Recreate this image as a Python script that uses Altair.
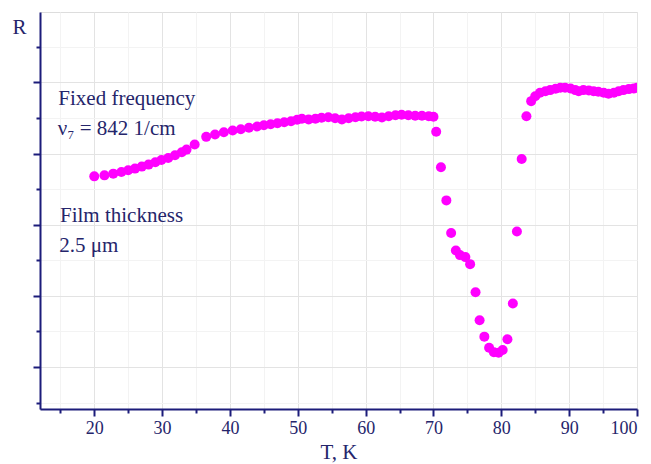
import altair as alt
import pandas as pd

# Temperature scan of reflectance at a fixed frequency
temperature = [
    20.0, 21.5, 22.8, 24.0, 25.0, 26.0, 27.0, 28.0, 29.0, 29.9, 30.9, 31.9, 32.9, 33.6, 34.8,
    36.5, 37.8, 39.1, 40.4, 41.6, 42.8, 44.0, 45.0, 46.0, 47.0, 48.0, 49.0, 49.9, 50.6,
    51.6, 52.6, 53.5, 54.5, 55.5, 56.5, 57.5, 58.5, 59.4, 60.4, 61.4, 62.4, 63.4, 64.4,
    65.3, 66.3, 67.3, 68.3, 69.3, 70.0,
    70.4, 71.1, 71.9, 72.6, 73.3, 73.9, 74.7, 75.4, 76.2, 76.8, 77.5, 78.2, 78.9, 79.6,
    80.2, 80.9, 81.7, 82.3, 83.0, 83.7, 84.4,
    85.0, 85.7, 86.5, 87.2, 88.0, 88.7, 89.4, 90.2, 90.9, 91.4, 92.1, 92.9, 93.6, 94.3,
    95.1, 95.8, 96.6, 97.3, 98.0, 98.8, 99.5, 100.0,
]
reflectance = [
    3.680, 3.694, 3.718, 3.742, 3.765, 3.789, 3.817, 3.845, 3.877, 3.911, 3.939, 3.976, 4.018, 4.056, 4.127,
    4.235, 4.268, 4.300, 4.324, 4.342, 4.362, 4.380, 4.399, 4.413, 4.427, 4.441, 4.455, 4.475, 4.489,
    4.479, 4.489, 4.503, 4.511, 4.497, 4.479, 4.497, 4.511, 4.521, 4.525, 4.517, 4.507, 4.525, 4.539,
    4.545, 4.539, 4.531, 4.531, 4.525, 4.517,
    4.306, 3.807, 3.342, 2.883, 2.638, 2.573, 2.545, 2.446, 2.052, 1.658, 1.427, 1.272, 1.207, 1.201,
    1.239, 1.390, 1.892, 2.906, 3.925, 4.525, 4.737,
    4.807, 4.855, 4.877, 4.892, 4.911, 4.925, 4.925, 4.915, 4.892, 4.877, 4.892, 4.887, 4.877, 4.869,
    4.855, 4.841, 4.855, 4.877, 4.892, 4.906, 4.915, 4.925,
]

# Annotation texts and their anchor points (data units, left/baseline)
note_text = ["Fixed frequency", "\u03bd\u2087 = 842 1/cm", "Film thickness", "2.5 \u03bcm"]
note_T = [14.7, 14.6, 14.95, 14.85]
note_R = [4.676, 4.268, 3.032, 2.615]

x_major = [20, 30, 40, 50, 60, 70, 80, 90, 100]
x_minor = [15, 25, 35, 45, 55, 65, 75, 85, 95]
y_major = [1, 2, 3, 4, 5]
y_minor = [0.5, 1.5, 2.5, 3.5, 4.5, 5.5]

NAVY = "#1c1c7a"
TEXT = "#25256b"
FONT = "Liberation Serif"

df = pd.DataFrame({"T": temperature, "R": reflectance})
notes = pd.DataFrame({"T": note_T, "R": note_R, "label": note_text})

xscale = alt.Scale(domain=[12, 100], nice=False, zero=False)
yscale = alt.Scale(domain=[0.41, 5.99], nice=False, zero=False)

points = alt.Chart(df).mark_circle(size=100, color="#ff00ff", opacity=1, clip=True).encode(
    x=alt.X("T:Q", scale=xscale, axis=alt.Axis(
        values=x_major, orient="bottom", grid=True, gridColor="#e3e3e3", gridWidth=1,
        tickSize=7, tickWidth=2, tickColor=NAVY, domainColor=NAVY, domainWidth=2,
        labelFont=FONT, labelFontSize=18, labelColor=TEXT, labelPadding=3,
        title="T, K", titleFont=FONT, titleFontSize=21, titleFontWeight="normal",
        titleColor=TEXT, titleBaseline="alphabetic", titleY=49)),
    y=alt.Y("R:Q", scale=yscale, axis=alt.Axis(
        values=y_major, orient="left", grid=True, gridColor="#e3e3e3", gridWidth=1,
        tickSize=7, tickWidth=2, tickColor=NAVY, domainColor=NAVY, domainWidth=2,
        labels=False, title="R", titleAngle=0, titleFont=FONT, titleFontSize=21,
        titleFontWeight="normal", titleColor=TEXT, titleBaseline="alphabetic",
        titleAlign="center", titleX=-21, titleY=21)),
)

text = alt.Chart(notes).mark_text(
    align="left", baseline="alphabetic", font=FONT, fontSize=21, color=TEXT
).encode(
    x=alt.X("T:Q", scale=xscale, axis=alt.Axis(
        values=x_minor, orient="bottom", grid=True, gridColor="#f3f3f3", gridWidth=1,
        tickSize=4, tickWidth=2, tickColor=NAVY, domain=False, labels=False, title=None)),
    y=alt.Y("R:Q", scale=yscale, axis=alt.Axis(
        values=y_minor, orient="left", grid=True, gridColor="#f3f3f3", gridWidth=1,
        tickSize=4, tickWidth=2, tickColor=NAVY, domain=False, labels=False, title=None)),
    text="label:N",
)

chart = alt.layer(text, points).resolve_axis(x="independent", y="independent").properties(
    width=597, height=397,
    autosize=alt.AutoSizeParams(type="none"),
    padding={"left": 40, "top": 12, "right": 14, "bottom": 55},
).configure_view(stroke=NAVY, strokeWidth=2).configure(background="white")

chart.save("out.html", embed_options={"renderer": "svg", "actions": False})
